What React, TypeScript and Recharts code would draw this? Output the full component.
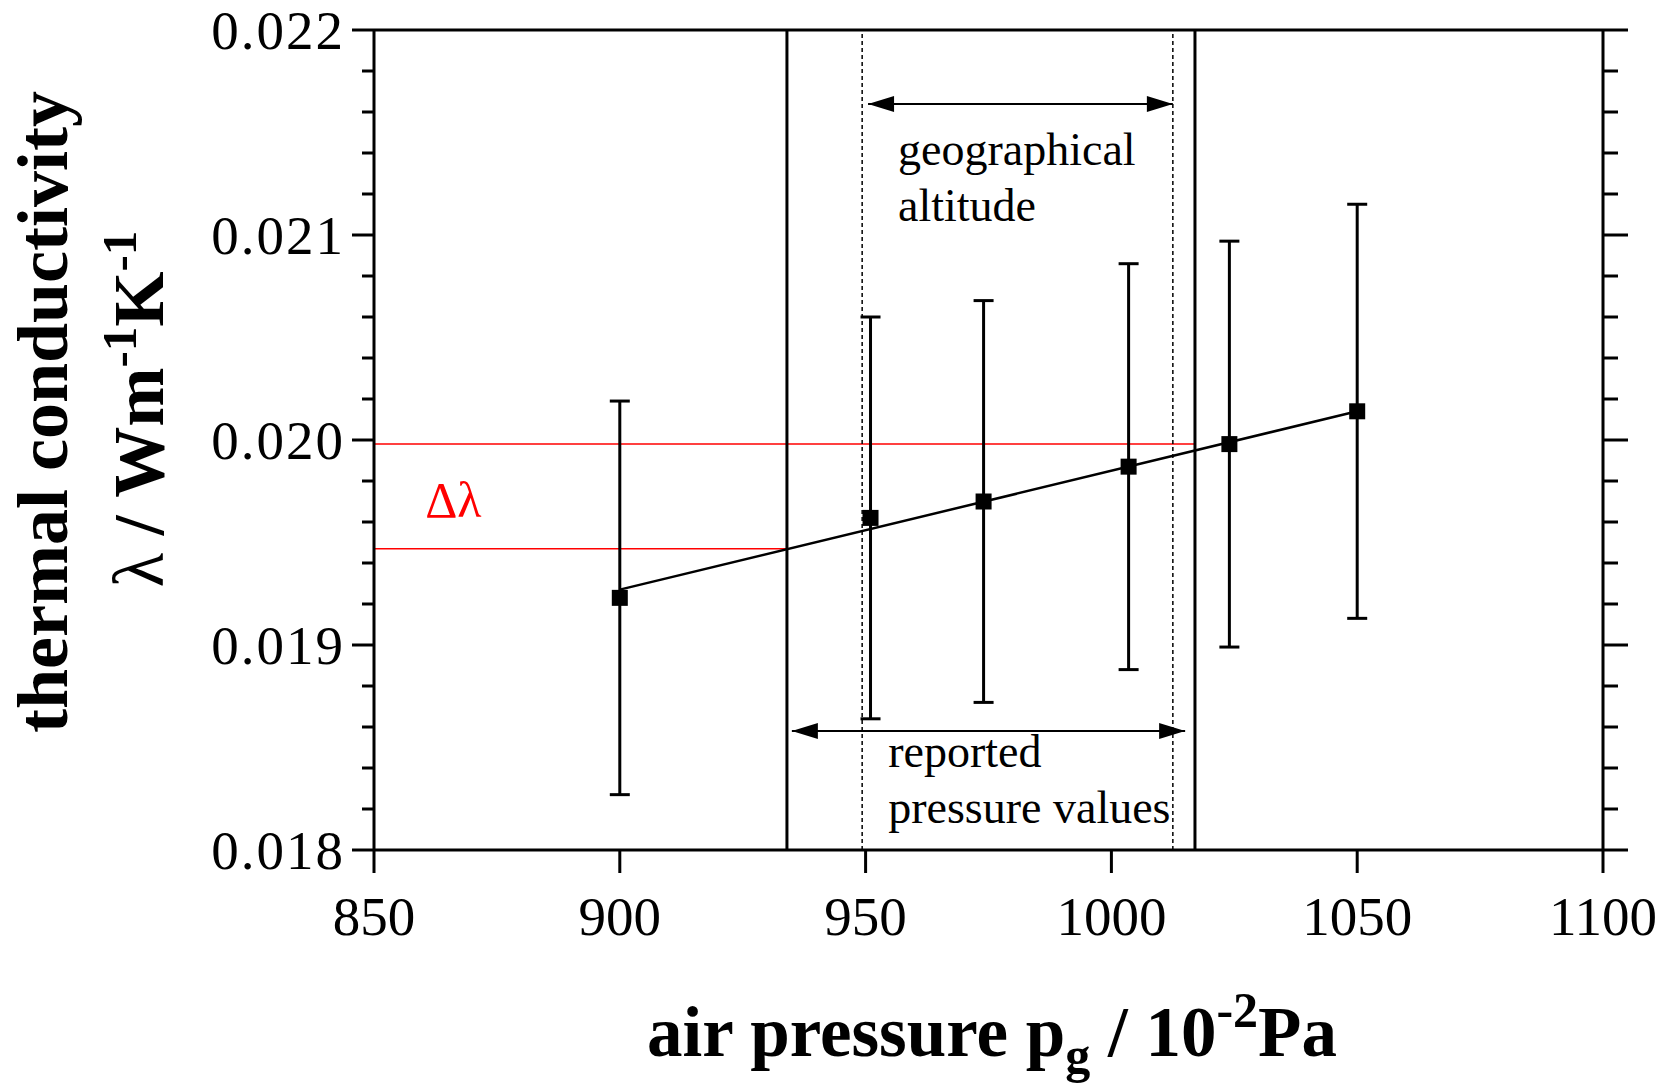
import React from "react";
import {
  ComposedChart,
  XAxis,
  YAxis,
  Scatter,
  ErrorBar,
  ReferenceLine,
  ReferenceDot,
  Label,
} from "recharts";

const FONT = "'Liberation Serif', 'Times New Roman', serif";

// measured points (pressure in 10^-2 Pa, conductivity in W/mK, +/- error)
const pressure = [900, 951, 974, 1003.5, 1024, 1050];
const conductivity = [0.01923, 0.01962, 0.0197, 0.01987, 0.01998, 0.02014];
const uncertainty = [0.00096, 0.00098, 0.00098, 0.00099, 0.00099, 0.00101];

// linear fit through the points
const fitX = [900, 1050];
const fitY = [0.01927, 0.02014];

// solid verticals = reported pressure values, dashed = geographical altitude
const reportedRange = [934, 1017];
const altitudeRange = [949.3, 1012.5];
// red horizontal lines (delta lambda)
const deltaLambda = [0.01947, 0.01998];

const xTicks = [850, 900, 950, 1000, 1050, 1100];
const yTicks = [
  0.018, 0.0182, 0.0184, 0.0186, 0.0188, 0.019, 0.0192, 0.0194, 0.0196, 0.0198,
  0.02, 0.0202, 0.0204, 0.0206, 0.0208, 0.021, 0.0212, 0.0214, 0.0216, 0.0218, 0.022,
];

const points = pressure.map((x, i) => ({ x, y: conductivity[i], err: uncertainty[i] }));

const isMajor = (v: number) => Math.abs(v * 1000 - Math.round(v * 1000)) < 1e-6;

const LeftTick = (props: any) => {
  const { x, y, payload } = props;
  const major = isMajor(payload.value);
  return (
    <g>
      <line x1={x - (major ? 22 : 12)} x2={x} y1={y} y2={y} stroke="#000" strokeWidth={3} />
      {major && (
        <text x={x - 29} y={y + 19} textAnchor="end" fontFamily={FONT} fontSize={55} letterSpacing={2} fill="#000">
          {payload.value.toFixed(3)}
        </text>
      )}
    </g>
  );
};

const RightTick = (props: any) => {
  const { x, y, payload } = props;
  const major = isMajor(payload.value);
  return <line x1={x} x2={x + (major ? 25 : 15)} y1={y} y2={y} stroke="#000" strokeWidth={3} />;
};

const BottomTick = (props: any) => {
  const { x, y, payload } = props;
  return (
    <g>
      <line x1={x} x2={x} y1={y} y2={y + 23} stroke="#000" strokeWidth={3} />
      <text x={x} y={y + 85} textAnchor="middle" fontFamily={FONT} fontSize={55} fill="#000">
        {payload.value}
      </text>
    </g>
  );
};

const TopTick = (props: any) => {
  const { x, y } = props;
  return <line x1={x} x2={x} y1={y - 21} y2={y} stroke="#000" strokeWidth={3} />;
};

const Square = (props: any) => (
  <rect x={props.cx - 8} y={props.cy - 8} width={16} height={16} fill="#000" />
);

// double headed arrow drawn along a reference segment
const Arrow = (props: any) => {
  const { x1, y1, x2, y2 } = props;
  const L = 26;
  const H = 8;
  return (
    <g>
      <line x1={x1} y1={y1} x2={x2} y2={y2} stroke="#000" strokeWidth={2} />
      <polygon points={`${x1},${y1} ${x1 + L},${y1 - H} ${x1 + L},${y1 + H}`} fill="#000" />
      <polygon points={`${x2},${y2} ${x2 - L},${y2 - H} ${x2 - L},${y2 + H}`} fill="#000" />
    </g>
  );
};

const note = (lines: string[], color = "#000", size = 46) => (props: any) => (
  <text x={props.cx} y={props.cy} fontFamily={FONT} fontSize={size} fill={color}>
    {lines.map((t, i) => (
      <tspan key={i} x={props.cx} dy={i === 0 ? 0 : 56}>
        {t}
      </tspan>
    ))}
  </text>
);

const XTitle = () => (
  <text x={992} y={1056} textAnchor="middle" fontFamily={FONT} fontWeight="bold" fontSize={71} fill="#000">
    air pressure p
    <tspan fontSize={50} dy={16}>g</tspan>
    <tspan dy={-16}> / 10</tspan>
    <tspan fontSize={50} dy={-29}>-2</tspan>
    <tspan dy={29}>Pa</tspan>
  </text>
);

const YTitle = () => (
  <g fontFamily={FONT} fontWeight="bold" fill="#000">
    <text transform="translate(67,412) rotate(-90)" textAnchor="middle" fontSize={72}>
      thermal conductivity
    </text>
    <text transform="translate(163,409) rotate(-90)" textAnchor="middle" fontSize={71}>
      <tspan fontWeight="normal">λ</tspan>
      <tspan> / Wm</tspan>
      <tspan fontSize={49} dy={-27}>-1</tspan>
      <tspan dy={27}>K</tspan>
      <tspan fontSize={49} dy={-27}>-1</tspan>
    </text>
  </g>
);

export default function App() {
  return (
    <div style={{ width: 1667, height: 1083, background: "#fff" }}>
      <style>{"body{margin:0}"}</style>
      <ComposedChart width={1667} height={1083} margin={{ top: 0, right: 0, bottom: 0, left: 0 }}>
        <XAxis
          xAxisId="bottom"
          type="number"
          dataKey="x"
          domain={[850, 1100]}
          ticks={xTicks}
          interval={0}
          height={233}
          tickSize={0}
          tickMargin={0}
          tickLine={false}
          axisLine={{ stroke: "#000", strokeWidth: 3 }}
          tick={BottomTick}
          allowDataOverflow
        >
          <Label content={XTitle} />
        </XAxis>
        <XAxis
          xAxisId="top"
          orientation="top"
          type="number"
          domain={[850, 1100]}
          ticks={xTicks}
          interval={0}
          height={30}
          tickSize={0}
          tickMargin={0}
          tickLine={false}
          axisLine={{ stroke: "#000", strokeWidth: 3 }}
          tick={TopTick}
          allowDataOverflow
        />
        <YAxis
          yAxisId="left"
          type="number"
          dataKey="y"
          domain={[0.018, 0.022]}
          ticks={yTicks}
          interval={0}
          width={374}
          tickSize={0}
          tickMargin={0}
          tickLine={false}
          axisLine={{ stroke: "#000", strokeWidth: 3 }}
          tick={LeftTick}
          allowDataOverflow
        >
          <Label content={YTitle} />
        </YAxis>
        <YAxis
          yAxisId="right"
          orientation="right"
          type="number"
          domain={[0.018, 0.022]}
          ticks={yTicks}
          interval={0}
          width={64}
          tickSize={0}
          tickMargin={0}
          tickLine={false}
          axisLine={{ stroke: "#000", strokeWidth: 3 }}
          tick={RightTick}
          allowDataOverflow
        />

        {/* delta lambda red lines */}
        <ReferenceLine
          xAxisId="bottom"
          yAxisId="left"
          segment={[{ x: 850, y: deltaLambda[1] }, { x: reportedRange[1], y: deltaLambda[1] }]}
          stroke="#ff0000"
          strokeWidth={1.5}
        />
        <ReferenceLine
          xAxisId="bottom"
          yAxisId="left"
          segment={[{ x: 850, y: deltaLambda[0] }, { x: reportedRange[0], y: deltaLambda[0] }]}
          stroke="#ff0000"
          strokeWidth={1.5}
        />

        {reportedRange.map((v) => (
          <ReferenceLine key={"r" + v} xAxisId="bottom" yAxisId="left" x={v} stroke="#000" strokeWidth={3} />
        ))}
        {altitudeRange.map((v) => (
          <ReferenceLine
            key={"a" + v}
            xAxisId="bottom"
            yAxisId="left"
            x={v}
            stroke="#000"
            strokeWidth={1.5}
            strokeDasharray="4 3"
          />
        ))}

        {/* fit line */}
        <ReferenceLine
          xAxisId="bottom"
          yAxisId="left"
          segment={[{ x: fitX[0], y: fitY[0] }, { x: fitX[1], y: fitY[1] }]}
          stroke="#000"
          strokeWidth={2.5}
        />

        {/* arrows */}
        <ReferenceLine
          xAxisId="bottom"
          yAxisId="left"
          segment={[{ x: 950.5, y: 0.021639 }, { x: altitudeRange[1], y: 0.021639 }]}
          shape={Arrow}
        />
        <ReferenceLine
          xAxisId="bottom"
          yAxisId="left"
          segment={[{ x: reportedRange[0] + 1, y: 0.01858 }, { x: reportedRange[1] - 2, y: 0.01858 }]}
          shape={Arrow}
        />

        <ReferenceDot xAxisId="bottom" yAxisId="left" x={956.6} y={0.021341} shape={note(["geographical", "altitude"])} />
        <ReferenceDot xAxisId="bottom" yAxisId="left" x={954.6} y={0.018405} shape={note(["reported", "pressure values"])} />
        <ReferenceDot xAxisId="bottom" yAxisId="left" x={860.4} y={0.019624} shape={note(["Δλ"], "#ff0000", 50)} />

        <Scatter
          xAxisId="bottom"
          yAxisId="left"
          data={points}
          dataKey="y"
          shape={Square}
          isAnimationActive={false}
        >
          <ErrorBar dataKey="err" direction="y" width={10} stroke="#000" strokeWidth={3} isAnimationActive={false} />
        </Scatter>
      </ComposedChart>
    </div>
  );
}
